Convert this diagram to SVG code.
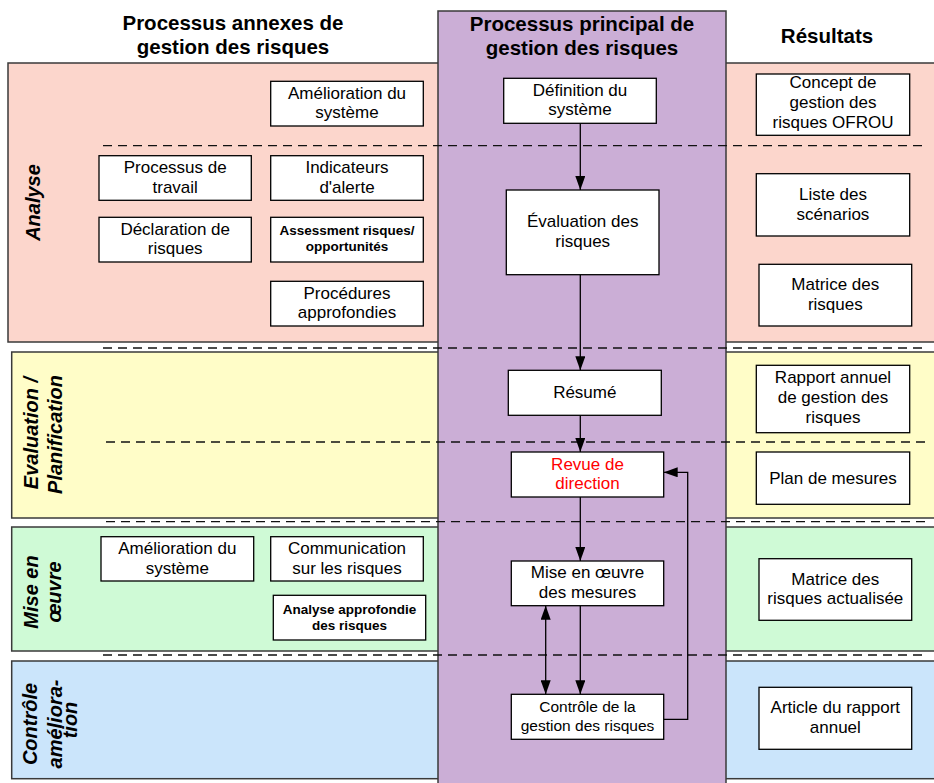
<svg xmlns="http://www.w3.org/2000/svg" width="934" height="783" viewBox="0 0 934 783">
<style>
.band{stroke:#3a3a3a;stroke-width:1.5}
.box{fill:#fff;stroke:#000;stroke-width:1.3}
.t{font-family:"Liberation Sans",Arial,sans-serif;font-size:17px;text-anchor:middle;fill:#000}
.s{font-size:15.5px}
.b{font-weight:bold;font-size:13.5px}
.red{fill:#ff0000}
.h{font-family:"Liberation Sans",Arial,sans-serif;font-size:20.5px;font-weight:bold;text-anchor:middle;fill:#000}
.lane{font-family:"Liberation Sans",Arial,sans-serif;font-size:20px;font-weight:bold;font-style:italic;text-anchor:middle;fill:#000}
.dash{stroke:#111;stroke-width:1.3;stroke-dasharray:9 6;fill:none}
.con{stroke:#000;stroke-width:1.3;fill:none}
</style>
<defs>
<marker id="ah" markerUnits="userSpaceOnUse" markerWidth="14" markerHeight="10" refX="14" refY="5" orient="auto-start-reverse">
<path d="M0,0 L14,5 L0,10 z" fill="#000"/>
</marker>
</defs>
<rect width="934" height="783" fill="#fff"/>
<g id="bands">
<rect class="band" x="8" y="63" width="940" height="279" fill="#fcd6cc"/>
<rect class="band" x="11.7" y="352" width="940" height="166" fill="#fffdc8"/>
<rect class="band" x="11.7" y="527" width="940" height="124" fill="#cffad6"/>
<rect class="band" x="11.7" y="661" width="940" height="117.7" fill="#cbe5fb"/>
<rect class="band" x="438" y="11" width="288" height="790" fill="#cbaed6"/>
</g>
<g id="headers">
<text class="h" x="233" y="30">Processus annexes de</text>
<text class="h" x="233" y="54">gestion des risques</text>
<text class="h" x="582" y="30.5">Processus principal de</text>
<text class="h" x="582" y="55">gestion des risques</text>
<text class="h" x="827" y="43">Résultats</text>
</g>
<g id="lanes">
<text class="lane" transform="translate(40,202.5) rotate(-90)">Analyse</text>
<text class="lane" transform="translate(38,433) rotate(-90)">Evaluation /</text>
<text class="lane" transform="translate(62,434.5) rotate(-90)">Planification</text>
<text class="lane" transform="translate(37.5,592) rotate(-90)">Mise en</text>
<text class="lane" transform="translate(61,592) rotate(-90)">œuvre</text>
<text class="lane" transform="translate(36.5,724) rotate(-90)">Contrôle</text>
<text class="lane" transform="translate(61.5,724) rotate(-90)">améliora-</text>
<text class="lane" transform="translate(76.5,720) rotate(-90)">tion</text>
</g>
<g id="dividers">
<line class="dash" x1="103" y1="145.7" x2="925" y2="145.7"/>
<line class="dash" x1="103" y1="348" x2="925" y2="348"/>
<line class="dash" x1="106" y1="442" x2="925" y2="442"/>
<line class="dash" x1="106" y1="521.7" x2="925" y2="521.7"/>
<line class="dash" x1="103" y1="655" x2="925" y2="655"/>
</g>
<g id="connectors">
<line class="con" x1="580.3" y1="123.3" x2="580.3" y2="190" marker-end="url(#ah)"/>
<line class="con" x1="580.3" y1="274.7" x2="580.3" y2="370.3" marker-end="url(#ah)"/>
<line class="con" x1="580.3" y1="415.3" x2="580.3" y2="452" marker-end="url(#ah)"/>
<line class="con" x1="580.3" y1="497" x2="580.3" y2="561" marker-end="url(#ah)"/>
<line class="con" x1="580.3" y1="605.7" x2="580.3" y2="694.3" marker-end="url(#ah)"/>
<line class="con" x1="545.7" y1="605.7" x2="545.7" y2="694.3" marker-start="url(#ah)" marker-end="url(#ah)"/>
<polyline class="con" points="663.7,719.3 687.7,719.3 687.7,472.3 663.7,472.3" marker-end="url(#ah)"/>
</g>
<g id="n_amelio1"><rect class="box" x="270.7" y="81.3" width="152.6" height="44.7"/><text class="t" x="347" y="98.7">Amélioration du</text><text class="t" x="347" y="118.2">système</text></g>
<g id="n_processus"><rect class="box" x="99" y="155.7" width="152.3" height="44.6"/><text class="t" x="175.2" y="173">Processus de</text><text class="t" x="175.2" y="192.5">travail</text></g>
<g id="n_indicateurs"><rect class="box" x="270.7" y="155.7" width="152.6" height="44.6"/><text class="t" x="347" y="173">Indicateurs</text><text class="t" x="347" y="192.5">d'alerte</text></g>
<g id="n_declaration"><rect class="box" x="99" y="217.3" width="152.3" height="44.7"/><text class="t" x="175.2" y="234.7">Déclaration de</text><text class="t" x="175.2" y="254.2">risques</text></g>
<g id="n_assessment"><rect class="box" x="270.7" y="217.3" width="152.6" height="44.7"/><text class="t b" x="347" y="234.5">Assessment risques/</text><text class="t b" x="347" y="251">opportunités</text></g>
<g id="n_procedures"><rect class="box" x="270.7" y="281.3" width="152.6" height="44.7"/><text class="t" x="347" y="298.7">Procédures</text><text class="t" x="347" y="318.2">approfondies</text></g>
<g id="n_definition"><rect class="box" x="503.7" y="78.3" width="152.6" height="45"/><text class="t" x="580" y="95.5">Définition du</text><text class="t" x="580" y="115">système</text></g>
<g id="n_evaluation"><rect class="box" x="506.3" y="190" width="152.7" height="84.7"/><text class="t" x="582.7" y="227.3">Évaluation des</text><text class="t" x="582.7" y="247">risques</text></g>
<g id="n_resume"><rect class="box" x="508.3" y="370.3" width="153" height="45"/><text class="t" x="584.8" y="397.8">Résumé</text></g>
<g id="n_revue"><rect class="box" x="511.3" y="452" width="152.4" height="45"/><text class="t red" x="587.5" y="469.5">Revue de</text><text class="t red" x="587.5" y="489">direction</text></g>
<g id="n_mise"><rect class="box" x="511.3" y="561" width="152.4" height="44.7"/><text class="t" x="587.5" y="578.3">Mise en œuvre</text><text class="t" x="587.5" y="597.8">des mesures</text></g>
<g id="n_controle"><rect class="box" x="511.3" y="694.3" width="152.4" height="45"/><text class="t s" x="587.5" y="712.3">Contrôle de la</text><text class="t s" x="587.5" y="730.7">gestion des risques</text></g>
<g id="n_concept"><rect class="box" x="756.3" y="74" width="153.4" height="61.3"/><text class="t" x="833" y="88.3">Concept de</text><text class="t" x="833" y="108">gestion des</text><text class="t" x="833" y="127.7">risques OFROU</text></g>
<g id="n_liste"><rect class="box" x="756.3" y="173.7" width="153.4" height="62.3"/><text class="t" x="833" y="200">Liste des</text><text class="t" x="833" y="220.3">scénarios</text></g>
<g id="n_matrice"><rect class="box" x="759" y="264.3" width="152.7" height="61.7"/><text class="t" x="835.3" y="290">Matrice des</text><text class="t" x="835.3" y="310">risques</text></g>
<g id="n_rapport"><rect class="box" x="756.3" y="365.3" width="153.4" height="67.4"/><text class="t" x="833" y="383">Rapport annuel</text><text class="t" x="833" y="403">de gestion des</text><text class="t" x="833" y="423">risques</text></g>
<g id="n_plan"><rect class="box" x="756.3" y="452" width="153.4" height="52.3"/><text class="t" x="833" y="483.5">Plan de mesures</text></g>
<g id="n_amelio2"><rect class="box" x="101" y="536.7" width="152.7" height="44.3"/><text class="t" x="177.3" y="554">Amélioration du</text><text class="t" x="177.3" y="573.5">système</text></g>
<g id="n_communication"><rect class="box" x="270.7" y="536.7" width="152.6" height="44.3"/><text class="t" x="347" y="554">Communication</text><text class="t" x="347" y="573.5">sur les risques</text></g>
<g id="n_analyse"><rect class="box" x="273.3" y="595.3" width="152.4" height="44.7"/><text class="t b" x="349.5" y="614">Analyse approfondie</text><text class="t b" x="349.5" y="630">des risques</text></g>
<g id="n_matrice2"><rect class="box" x="759" y="558.7" width="152.7" height="61.6"/><text class="t" x="835.3" y="584.5">Matrice des</text><text class="t" x="835.3" y="604">risques actualisée</text></g>
<g id="n_article"><rect class="box" x="759" y="687.3" width="152.7" height="62"/><text class="t" x="835.3" y="713">Article du rapport</text><text class="t" x="835.3" y="732.5">annuel</text></g>
</svg>
